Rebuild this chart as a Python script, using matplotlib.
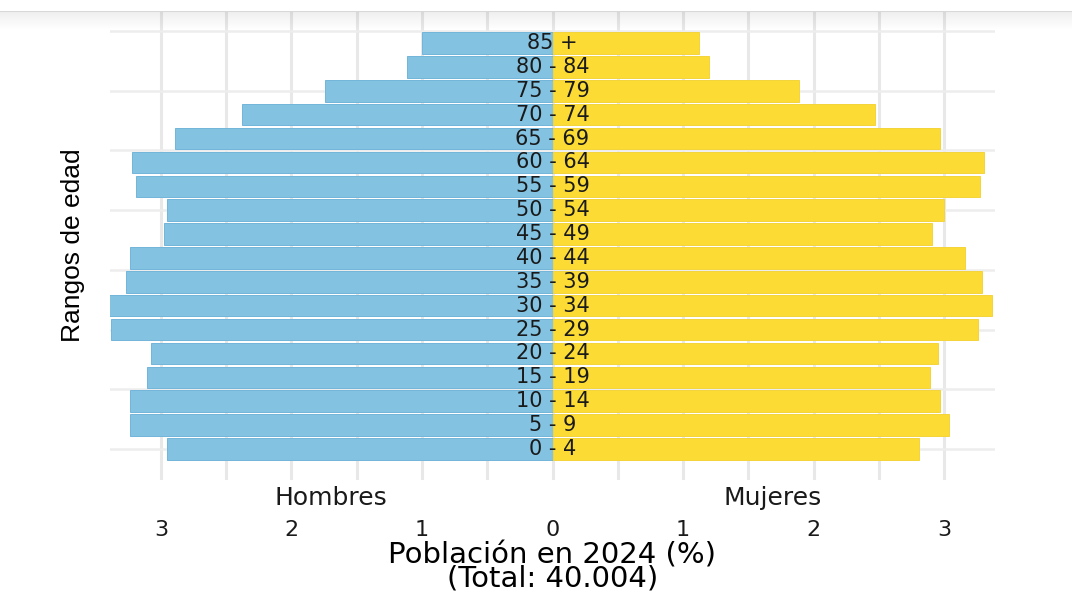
import matplotlib
matplotlib.use("Agg")
import matplotlib.pyplot as plt
import matplotlib.transforms as mtransforms
import numpy as np

# ---- data ----
age_groups = ["0 - 4", "5 - 9", "10 - 14", "15 - 19", "20 - 24", "25 - 29", "30 - 34",
              "35 - 39", "40 - 44", "45 - 49", "50 - 54", "55 - 59", "60 - 64",
              "65 - 69", "70 - 74", "75 - 79", "80 - 84", "85 +"]
hombres = [2.95, 3.235, 3.235, 3.105, 3.074, 3.384, 3.40, 3.27, 3.235,
           2.98, 2.95, 3.19, 3.22, 2.895, 2.378, 1.745, 1.118, 1.00]
mujeres = [2.807, 3.036, 2.97, 2.89, 2.95, 3.26, 3.37, 3.29, 3.16,
           2.906, 3.00, 3.275, 3.306, 2.97, 2.47, 1.892, 1.20, 1.119]
xtick_values = [-3, -2, -1, 0, 1, 2, 3]
xtick_labels = ["3", "2", "1", "0", "1", "2", "3"]
side_labels = ["Hombres", "Mujeres"]
xlabel_text = "Población en 2024 (%)\n(Total: 40.004)"
ylabel_text = "Rangos de edad"

BLUE = "#83C2E1"
BLUE_EDGE = "#72B5DA"
YELLOW = "#FCDB34"
YELLOW_EDGE = "#F4D43A"
GRID = "#E8E8E8"
TXT = "#1a1a1a"

W, H = 1072, 593
fig = plt.figure(figsize=(W / 100, H / 100), dpi=100)
fig.patch.set_facecolor("white")

left_px, right_px, top_px, bottom_px = 110, 995, 11, 480
ax = fig.add_axes([left_px / W, 1 - bottom_px / H,
                   (right_px - left_px) / W, (bottom_px - top_px) / H])

y = np.arange(len(age_groups))
ax.barh(y, [-v for v in hombres], height=0.9, color=BLUE, edgecolor=BLUE_EDGE,
        linewidth=0.7, zorder=3)
ax.barh(y, mujeres, height=0.9, color=YELLOW, edgecolor=YELLOW_EDGE,
        linewidth=0.7, zorder=3)

for yi, lab in zip(y, age_groups):
    ax.text(0, yi, lab, ha="center", va="center", fontsize=15,
            color=TXT, zorder=5, family="DejaVu Sans")

ax.set_xlim(-3.39, 3.39)
ax.set_ylim(-1.30, 18.34)

# grid
for gx in np.arange(-3, 3.01, 0.5):
    ax.axvline(gx, color=GRID, lw=2.2, zorder=1)
for gy in np.arange(0, 18, 2.5):
    ax.axhline(gy, color="#EDEDED", lw=1.8, zorder=1)

ax.set_xticks(xtick_values)
ax.set_xticklabels(xtick_labels, fontsize=16, color=TXT, family="DejaVu Sans")
ax.tick_params(axis="x", length=0, pad=29)
ax.set_yticks([])
for s in ax.spines.values():
    s.set_visible(False)

trans = mtransforms.blended_transform_factory(ax.transData, ax.transAxes)
ax.text(-1.70, -0.038, side_labels[0], transform=trans, ha="center", va="center",
        fontsize=18, color=TXT, family="DejaVu Sans")
ax.text(1.69, -0.038, side_labels[1], transform=trans, ha="center", va="center",
        fontsize=18, color=TXT, family="DejaVu Sans")

ax.text(0, (bottom_px - 567) / (bottom_px - top_px), xlabel_text, transform=trans,
        ha="center", va="center", fontsize=21, color="black",
        family="DejaVu Sans", linespacing=0.8, multialignment="center")

ax.set_ylabel(ylabel_text, fontsize=19, color="black",
              family=["Liberation Sans Narrow", "Liberation Sans", "DejaVu Sans"],
              labelpad=18)

# top strip (screenshot header shading)
top_ax = fig.add_axes([0, 1 - 30 / H, 1, 19 / H])
grad = np.zeros((50, 2, 4))
grad[..., 3] = np.linspace(0.07, 0.0, 50)[:, None]
top_ax.imshow(grad, aspect="auto", extent=[0, 1, 0, 1], origin="upper")
top_ax.axhline(1, color="#d8d8d8", lw=1.5)
top_ax.set_xlim(0, 1)
top_ax.set_ylim(0, 1)
top_ax.axis("off")

fig.savefig("out.png", dpi=100, facecolor="white")
